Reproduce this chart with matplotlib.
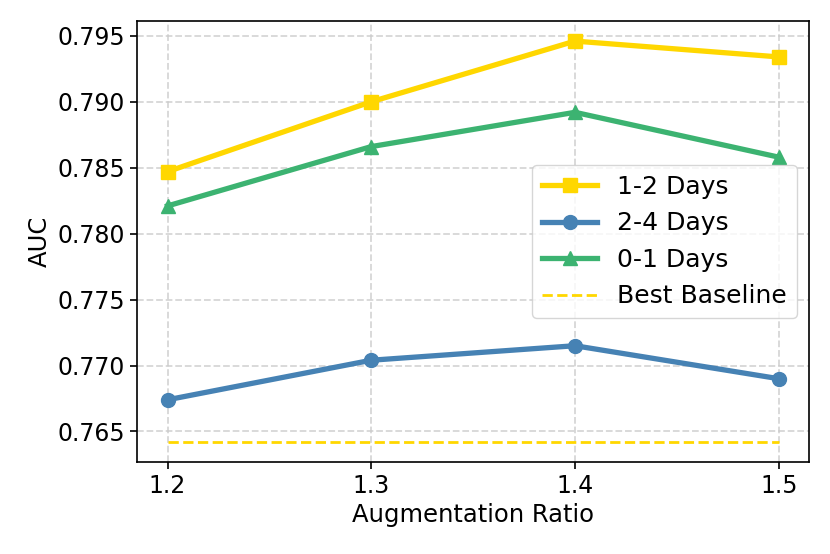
import matplotlib
matplotlib.use("Agg")
import matplotlib.pyplot as plt

ratios = [1.2, 1.3, 1.4, 1.5]
days_1_2 = [0.7847, 0.7900, 0.7946, 0.7934]
days_2_4 = [0.7674, 0.7704, 0.7715, 0.7690]
days_0_1 = [0.7821, 0.7866, 0.7892, 0.7858]
best_baseline = 0.7642
xtick_labels = ["1.2", "1.3", "1.4", "1.5"]

fig = plt.figure(figsize=(8.3, 5.54), dpi=100)
ax = fig.add_axes([0.165, 0.166, 0.81, 0.796])

ax.plot(ratios, days_1_2, color="#FFD700", marker="s", linewidth=3.8, markersize=10, label="1-2 Days")
ax.plot(ratios, days_2_4, color="#4682B4", marker="o", linewidth=3.8, markersize=10, label="2-4 Days")
ax.plot(ratios, days_0_1, color="#3CB371", marker="^", linewidth=3.8, markersize=10, label="0-1 Days")
ax.plot(ratios, [best_baseline] * len(ratios), color="#FFD700", linestyle="--", linewidth=2.0, label="Best Baseline")

ax.set_xticks(ratios)
ax.set_xticklabels(xtick_labels)
ax.set_yticks([0.765, 0.770, 0.775, 0.780, 0.785, 0.790, 0.795])
ax.tick_params(labelsize=17, length=5, width=1.2)
ax.set_xlabel("Augmentation Ratio", fontsize=17.5)
ax.set_ylabel("AUC", fontsize=17.5)
ax.grid(True, linestyle="--", color="#cccccc", linewidth=1.3, alpha=0.8)
for s in ax.spines.values():
    s.set_linewidth(1.2)

ax.legend(fontsize=18, loc="center right", bbox_to_anchor=(1.0, 0.50), framealpha=0.8, handlelength=2.2)

fig.savefig("out.png", dpi=100)
